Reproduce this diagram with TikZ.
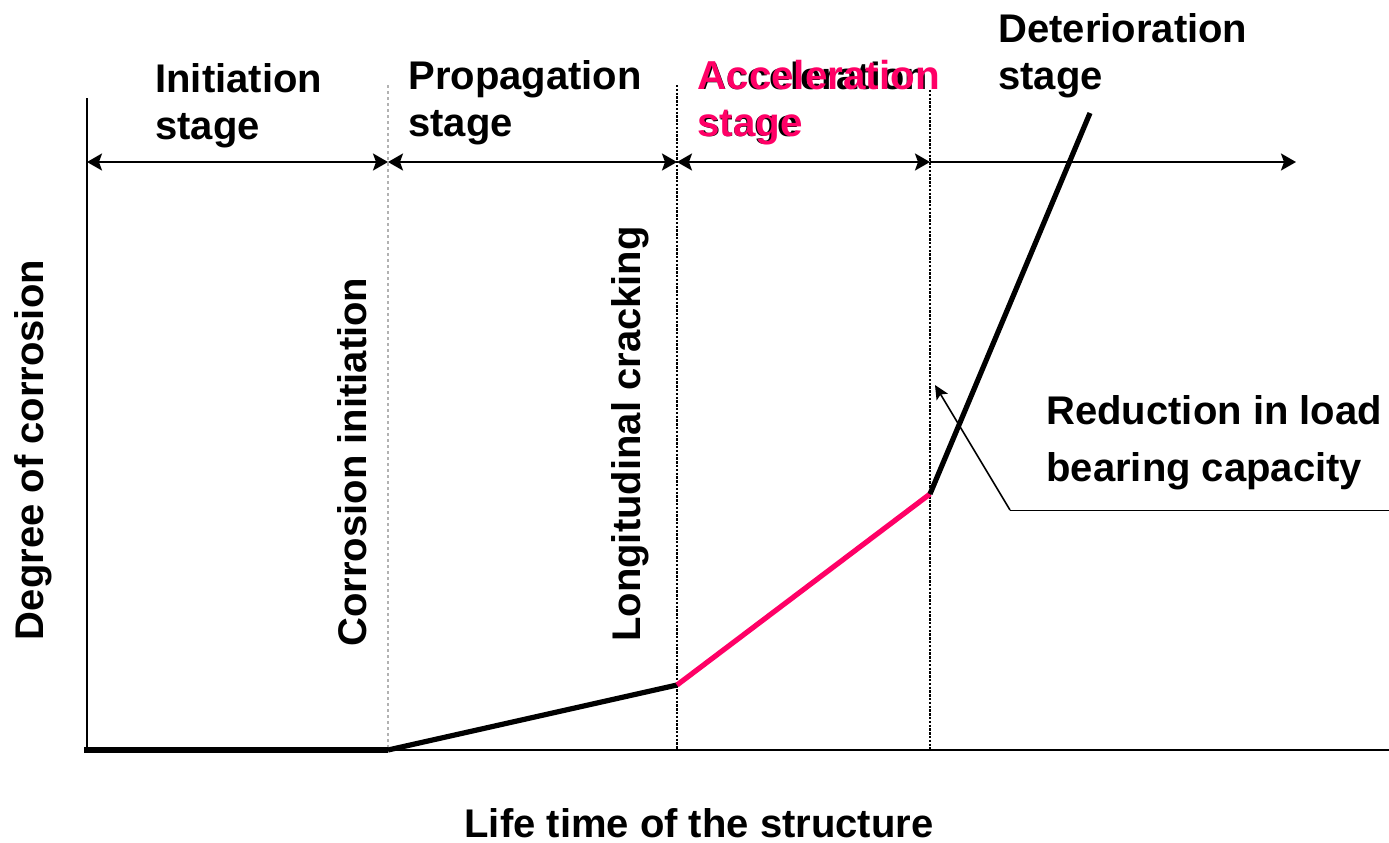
\documentclass[tikz,border=0pt]{standalone}
\usepackage{fontspec}
\setmainfont{Liberation Sans}
\usetikzlibrary{arrows.meta}
\definecolor{accpink}{RGB}{255,0,102}
\tikzset{
  lbl/.style={inner sep=0pt, align=left, font=\fontsize{20}{23.5}\selectfont\bfseries},
  vlbl/.style={inner sep=0pt, rotate=90, font=\fontsize{20}{23.5}\selectfont\bfseries},
  axis/.style={line width=0.6pt, black},
  curve/.style={line width=2.6pt, black},
  stagearrow/.style={line width=1.1pt, {Stealth[length=7.5pt,width=8.5pt,inset=1.5pt]}-{Stealth[length=7.5pt,width=8.5pt,inset=1.5pt]}},
  stagearrowR/.style={line width=1.1pt, -{Stealth[length=7.5pt,width=8.5pt,inset=1.5pt]}},
  greydot/.style={line width=0.6pt, gray!60, dash pattern=on 1.5pt off 1.5pt},
  blackdot/.style={line width=1.4pt, black, dash pattern=on 1.2pt off 0.7pt},
}
\begin{document}
\begin{tikzpicture}[x=0.5pt,y=-0.5pt]
\useasboundingbox (0,0) rectangle (1389,842);
% coordinates
\coordinate (ytop) at (87,98);
\coordinate (orig) at (87,750);
\coordinate (xend) at (1389,750);
\coordinate (base0) at (84,750);
\coordinate (c0) at (388,750);
\coordinate (c1) at (677,685);
\coordinate (c2) at (930,494);
\coordinate (c3) at (1090,113);
\coordinate (d1top) at (388,85);
\coordinate (d2top) at (677,85);
\coordinate (d3top) at (930,90);
\coordinate (d1bot) at (388,750);
\coordinate (d2bot) at (677,750);
\coordinate (d3bot) at (930,750);
\coordinate (a0) at (87,162);
\coordinate (a1) at (388,162);
\coordinate (a2) at (677,162);
\coordinate (a3) at (930,162);
\coordinate (a4) at (1296,162);
\coordinate (ann) at (1010,510);
\coordinate (annend) at (1389,510);
\coordinate (anntip) at (935,385);
% dotted stage lines
\draw[greydot] (d1top) -- (d1bot);
\draw[blackdot] (d2top) -- (d2bot);
\draw[blackdot] (d3top) -- (d3bot);
% axes
\draw[axis] (ytop) -- (orig);
\draw[axis] (orig) -- (xend);
\draw[curve] (base0) -- (c0);
% curve
\draw[curve] (c0) -- (c1);
\draw[curve, accpink] (c1) -- (c2);
\draw[curve] (c2) -- (c3);
% stage arrows
\draw[stagearrow] (a0) -- (a1);
\draw[stagearrow] (a1) -- (a2);
\draw[stagearrow] (a2) -- (a3);
\draw[stagearrowR] (a3) -- (a4);
% annotation
\draw[line width=0.5pt] (annend) -- (ann);
\draw[line width=0.8pt, -{Stealth[length=7pt,width=6.5pt,inset=1.5pt]}] (ann) -- (anntip);
% labels
\node[lbl, anchor=north west] (init) at (155,63) {Initiation\\stage};
\node[lbl, anchor=north west] (prop) at (408,60) {Propagation\\stage};
\node[inner sep=0pt, align=left, anchor=north west, font=\fontsize{19}{23.5}\selectfont\bfseries] (accghost) at (699,61.5) {Acceleration\\stage};
\node[inner sep=0pt, align=left, anchor=north west, text=accpink, font=\fontsize{20.2}{23.5}\selectfont\bfseries] (acc) at (697,60) {Acceleration\\stage};
\node[lbl, anchor=north west] (det) at (998,13) {Deterioration\\stage};
\node[inner sep=0pt, align=left, anchor=north west, font=\fontsize{20}{28.5}\selectfont\bfseries] (red) at (1046,395) {Reduction in load\\bearing capacity};
\node[lbl, anchor=base] (life) at (699,837) {Life time of the structure};
\node[vlbl] (deg) at (33,450) {Degree of corrosion};
\node[vlbl] (corr) at (352,462) {Corrosion initiation};
\node[vlbl] (long) at (630,434) {Longitudinal cracking};
\end{tikzpicture}
\end{document}
